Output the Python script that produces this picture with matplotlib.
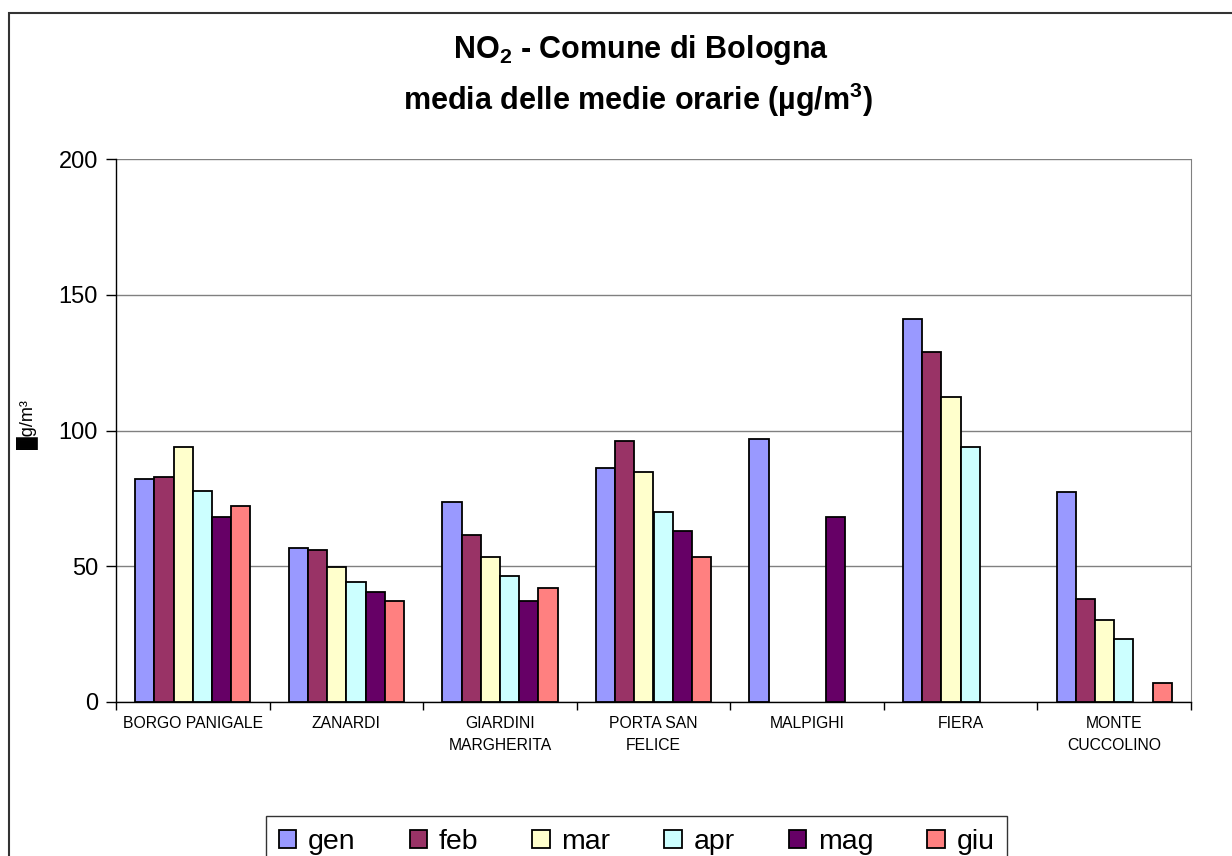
import numpy as np
import matplotlib
matplotlib.use("Agg")
import matplotlib.pyplot as plt
from matplotlib.patches import Rectangle

plt.rcParams['font.family'] = ['Liberation Sans', 'DejaVu Sans']

stations = ["BORGO PANIGALE", "ZANARDI", "GIARDINI\nMARGHERITA", "PORTA SAN\nFELICE",
            "MALPIGHI", "FIERA", "MONTE\nCUCCOLINO"]
months = ["gen", "feb", "mar", "apr", "mag", "giu"]
colors = ["#9999FF", "#993366", "#FFFFCC", "#CCFFFF", "#660066", "#FF8080"]

# valori, nan = dato mancante
gen = [82.0, 56.8, 73.7, 86.3, 96.7, 141.0, 77.2]
feb = [82.8, 56.1, 61.6, 96.0, np.nan, 128.9, 37.8]
mar = [94.0, 49.8, 53.3, 84.8, np.nan, 112.2, 30.1]
apr = [77.8, 44.2, 46.4, 70.1, np.nan, 94.0, 23.2]
mag = [68.0, 40.6, 37.2, 63.1, 68.0, np.nan, np.nan]
giu = [72.3, 37.2, 42.1, 53.3, np.nan, np.nan, 7.0]
series = [gen, feb, mar, apr, mag, giu]

W, H = 1232, 856
fig = plt.figure(figsize=(W / 100, H / 100), dpi=100)
ax = fig.add_axes([116 / W, 1 - 702 / H, (1191 - 116) / W, (702 - 159) / H])

x = np.arange(len(stations))
bw = 1 / 8
for k, (vals, c, m) in enumerate(zip(series, colors, months)):
    ax.bar(x + (k - 2.5) * bw, vals, width=bw, color=c, edgecolor="black",
           linewidth=1.3, label=m, zorder=3)

ax.set_xlim(-0.5, len(stations) - 0.5)
ax.set_ylim(0, 200)
ax.set_yticks([0, 50, 100, 150, 200])
ax.tick_params(axis="y", labelsize=17, length=7, width=1, direction="out", pad=6)
ax.yaxis.grid(True, color="#808080", linewidth=1, zorder=0)

ax.set_xticks(x)
ax.set_xticklabels(stations, fontsize=11.3, linespacing=1.6)
ax.tick_params(axis="x", length=0, pad=10)
ax.set_xticks(np.arange(-0.5, len(stations)), minor=True)
ax.tick_params(axis="x", which="minor", length=6, width=1, direction="out")

ax.spines["top"].set_visible(False)
ax.spines["right"].set_color("#808080")
ax.spines["left"].set_linewidth(1)
ax.spines["bottom"].set_linewidth(1)

fig.text(641 / W, 1 - 50 / H, "NO$_\\mathregular{2}$ - Comune di Bologna", ha="center", va="center",
         fontsize=22, fontweight="bold")
fig.text(638 / W, 1 - 100 / H, "media delle medie orarie (\u00b5g/m$^\\mathregular{3}$)", ha="center",
         va="center", fontsize=22, fontweight="bold")

fig.text(27 / W, 1 - 425 / H, "\u2588g/m\u00b3", rotation=90, ha="center", va="center", fontsize=13)

leg = fig.legend(loc="upper left", bbox_to_anchor=(266 / W, 1 - 816 / H), ncol=6, fontsize=20.5,
                 frameon=True, fancybox=False, edgecolor="black", borderaxespad=0,
                 handlelength=0.62, handleheight=0.62, handletextpad=0.4, columnspacing=1.9,
                 borderpad=0.45)
leg.get_frame().set_linewidth(1)

fig.patches.append(Rectangle((9 / W, -0.1), 1.1, 1.1 - 13 / H, transform=fig.transFigure,
                             fill=False, edgecolor="#333333", linewidth=1.5))

fig.savefig("out.png", dpi=100)
